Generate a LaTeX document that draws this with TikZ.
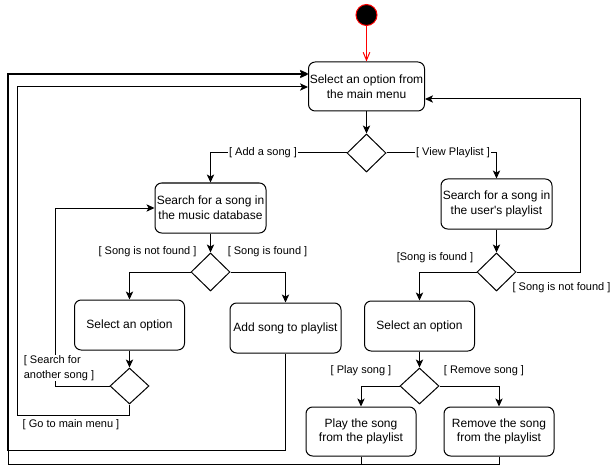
\documentclass[tikz,border=0pt]{standalone}
\usepackage{fontspec}
\setmainfont{Liberation Sans}
\usetikzlibrary{shapes.geometric,arrows.meta}
\begin{document}
\begin{tikzpicture}[x=0.75pt,y=-0.75pt,
  line width=0.75pt,
  act/.style={draw, rounded corners=5pt, inner sep=0pt, align=center, font=\fontsize{9}{11}\selectfont},
  bigact/.style={act, minimum width=83.25pt, minimum height=37.5pt},
  dec/.style={draw, diamond, inner sep=0pt, minimum width=29.25pt, minimum height=28.5pt},
  arr/.style={-{Stealth[length=6pt,width=5.5pt,inset=1.5pt]}},
  lbl/.style={font=\fontsize{8.25}{11}\selectfont, inner sep=0.5pt, align=center},
  lblw/.style={lbl, fill=white},
]
\useasboundingbox (0,0) rectangle (610,474);

% nodes
\node[circle, fill=black, draw=red, minimum size=15.75pt, inner sep=0pt] (start) at (366.5,15) {};
\node[act, minimum width=87pt, minimum height=36.75pt] (main) at (366.5,86.5) {Select an option from\\the main menu};
\node[dec] (d1) at (366.5,153) {};
\node[bigact] (s1) at (210.5,208) {Search for a song in\\the music database};
\node[bigact] (s2) at (496.5,204) {Search for a song in\\the user\textquotesingle s playlist};
\node[dec] (d2) at (210.5,272) {};
\node[dec] (d3) at (496.5,272) {};
\node[act, minimum width=82.5pt, minimum height=37.5pt] (o1) at (129.5,325) {Select an option};
\node[bigact] (add) at (285.5,328) {Add song to playlist};
\node[act, minimum width=82.5pt, minimum height=37.5pt] (o2) at (419.5,326) {Select an option};
\node[dec, minimum height=27pt] (d4) at (129.5,386) {};
\node[dec, minimum height=27pt] (d5) at (419.5,386) {};
\node[act, minimum width=82.5pt, minimum height=36.75pt] (play) at (361,431.5) {Play the song\\from the playlist};
\node[act, minimum width=82.5pt, minimum height=36.75pt] (rem) at (499,431.5) {Remove the song\\from the playlist};

% helper coordinates
\coordinate (r1) at (580,99);
\coordinate (l1) at (55,208);
\coordinate (g1) at (129.5,415);
\coordinate (g2) at (17,87);
\coordinate (a1) at (7.5,450);
\coordinate (a2) at (7.5,73.5);
\coordinate (b1) at (8.5,464);
\coordinate (b2) at (8.5,74.5);

% edges
\draw[red, -{Straight Barb[length=6pt,width=5pt]}] (start) -- (main);
\draw[arr] (main) -- (d1);
\draw[arr] (d1.west) -| (s1.north);
\draw[arr] (d1.east) -| (s2.north);
\draw[arr] (s1) -- (d2);
\draw[arr] (s2) -- (d3);
\draw[arr] (d2.west) -| (o1.north);
\draw[arr] (d2.east) -| (add.north);
\draw[arr] (d3.west) -| (o2.north);
\draw[arr] (d3.east) -| (r1) -- (main.east |- r1);
\draw[arr] (o1) -- (d4);
\draw[arr] (o2) -- (d5);
\draw[arr] (d5.west) -| (play.north);
\draw[arr] (d5.east) -| (rem.north);
\draw[arr] (d4.west) -| (l1) -- (s1.west);
\draw[arr] (d4.south) -- (g1) -| (g2) -- (main.west |- g2);
\draw[arr] (add.south) |- (a1) -- (a2) -- (main.west |- a2);
\draw[arr] (play.south) |- (b1) -- (b2) -- (main.west |- b2);
\draw (rem.south) |- (play.south |- b1);

% labels
\node[lblw] (la) at (263,153) {[ Add a song ]};
\node[lblw] (lv) at (453,153) {[ View Playlist ]};
\node[lbl] (lnf1) at (147.5,252) {[ Song is not found ]};
\node[lbl] (lf1) at (267.5,252) {[ Song is found ]};
\node[lbl] (lf2) at (435,258) {[Song is found ]};
\node[lbl] (lnf2) at (561.5,288) {[ Song is not found ]};
\node[lblw, align=left] (lsa) at (59,368) {[ Search for\\another song ]};
\node[lbl] (lgm) at (71,425) {[ Go to main menu ]};
\node[lbl] (lps) at (361,371) {[ Play song ]};
\node[lbl] (lrs) at (484,371) {[ Remove song ]};
\end{tikzpicture}
\end{document}
